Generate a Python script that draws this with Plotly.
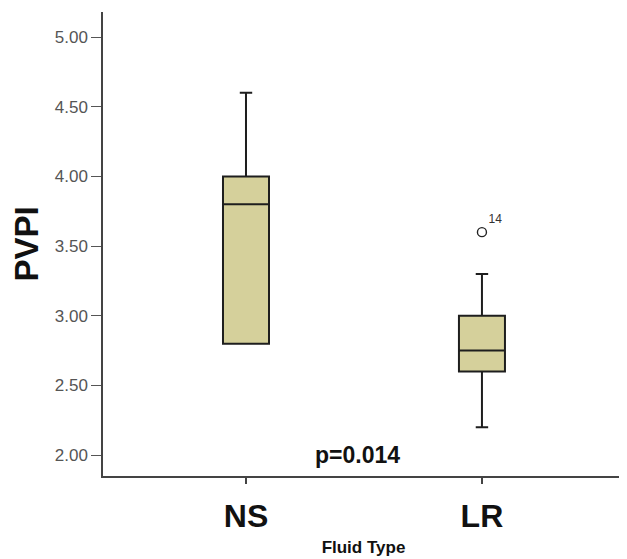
import plotly.graph_objects as go

categories = ["NS", "LR"]
lower_fence = [2.8, 2.2]
q1 = [2.8, 2.6]
median = [3.8, 2.75]
q3 = [4.0, 3.0]
upper_fence = [4.6, 3.3]
outlier_cat = ["LR"]
outlier_val = [3.6]
outlier_label = ["14"]
y_ticks = [2.0, 2.5, 3.0, 3.5, 4.0, 4.5, 5.0]

FONT = "Arial, Liberation Sans, Helvetica, sans-serif"

fig = go.Figure()
fig.add_trace(go.Box(
    x=categories, q1=q1, median=median, q3=q3,
    lowerfence=lower_fence, upperfence=upper_fence,
    fillcolor="#d5d09b", line=dict(color="#1e1e1e", width=2),
    width=0.195, whiskerwidth=0.27, boxpoints=False, showlegend=False,
    hoverinfo="skip",
))
fig.add_trace(go.Scatter(
    x=outlier_cat, y=outlier_val, mode="markers+text",
    marker=dict(symbol="circle-open", size=9, color="#222222", line=dict(width=1.4)),
    text=outlier_label, textposition="top right",
    textfont=dict(family=FONT, size=12, color="#333333"),
    showlegend=False, hoverinfo="skip",
))

fig.add_annotation(
    x=0.5, y=2.0, xref="x", yref="y", text="<b>p=0.014</b>", showarrow=False,
    xanchor="center", yanchor="middle", xshift=-6,
    font=dict(family=FONT, size=23, color="#111111"),
)

fig.update_layout(
    width=619, height=551,
    margin=dict(l=95, r=3, t=4, b=83),
    plot_bgcolor="white", paper_bgcolor="white",
    xaxis=dict(
        type="category", range=[-0.606, 1.602], automargin=False,
        showline=True, linecolor="#444444", linewidth=1.5,
        ticks="outside", ticklen=6, tickcolor="#444444", tickwidth=1.5,
        showgrid=False, zeroline=False,
        tickfont=dict(family=FONT, size=32, color="#111111"),
        tickprefix="<b>", ticksuffix="</b>",
        ticklabelstandoff=5,
        title=dict(text="<b>Fluid Type</b>", standoff=8,
                   font=dict(family=FONT, size=17, color="#111111")),
    ),
    yaxis=dict(
        range=[1.85, 5.18], automargin=False,
        tickvals=y_ticks, ticktext=[f"{v:.2f}" for v in y_ticks],
        showline=True, linecolor="#444444", linewidth=1.5,
        ticks="outside", ticklen=10, tickcolor="#555555", tickwidth=1.2,
        showgrid=False, zeroline=False,
        tickfont=dict(family=FONT, size=17, color="#555555"),
        title=dict(text="<b>PVPI</b>", standoff=13,
                   font=dict(family=FONT, size=33, color="#111111")),
    ),
)

fig.write_html("out.html")
